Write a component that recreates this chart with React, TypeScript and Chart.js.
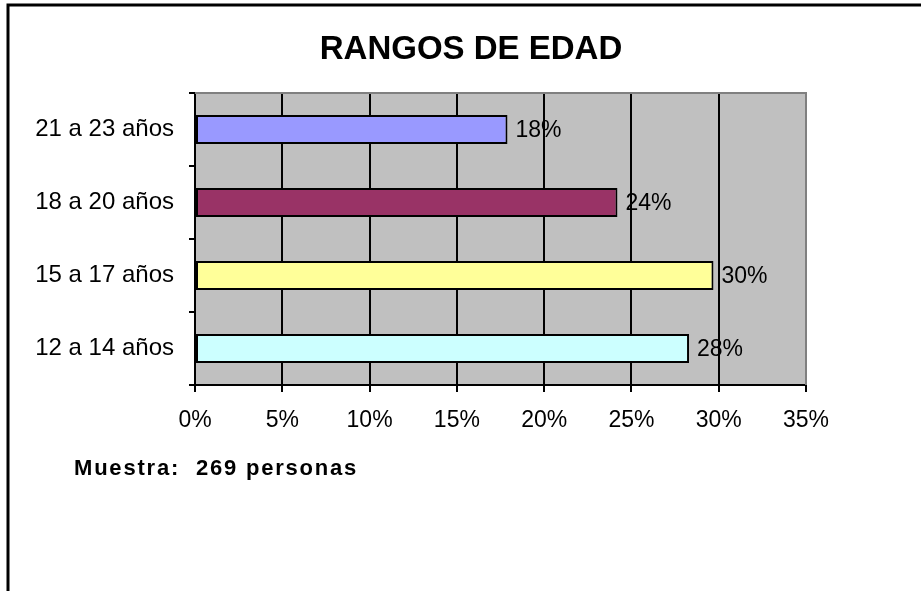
import React, { useEffect, useRef } from "react";
import { Chart, registerables } from "chart.js";

Chart.register(...registerables);

const categories = ["21 a 23 años", "18 a 20 años", "15 a 17 años", "12 a 14 años"];
const values = [17.9, 24.2, 29.7, 28.3];
const barColors = ["#9999FF", "#993366", "#FFFF99", "#CCFFFF"];
const xTicks = [0, 5, 10, 15, 20, 25, 30, 35];
const titleText = "RANGOS DE EDAD";
const noteText = "Muestra:  269 personas";

const FONT = '"Liberation Sans", Arial, sans-serif';

export default function App() {
  const ref = useRef<HTMLCanvasElement | null>(null);

  useEffect(() => {
    document.body.style.margin = "0";
    const canvas = ref.current!;
    const decor = {
      id: "decor",
      beforeDraw(chart: any) {
        const { ctx, chartArea: a } = chart;
        ctx.save();
        ctx.fillStyle = "#FFFFFF";
        ctx.fillRect(0, 0, chart.width, chart.height);
        ctx.fillStyle = "#C0C0C0";
        ctx.fillRect(a.left, a.top, a.right - a.left, a.bottom - a.top);
        ctx.restore();
      },
      afterDatasetsDraw(chart: any) {
        const { ctx, chartArea: a } = chart;
        ctx.save();
        ctx.strokeStyle = "#808080";
        ctx.lineWidth = 2;
        ctx.beginPath();
        ctx.moveTo(a.left, a.top);
        ctx.lineTo(a.right, a.top);
        ctx.lineTo(a.right, a.bottom);
        ctx.stroke();
        const meta = chart.getDatasetMeta(0);
        ctx.fillStyle = "#000";
        ctx.font = `23px ${FONT}`;
        ctx.textAlign = "left";
        ctx.textBaseline = "middle";
        meta.data.forEach((el: any, i: number) => {
          ctx.fillText(Math.round(values[i]) + "%", el.x + 8, el.y + 1);
        });
        ctx.restore();
      },
      afterDraw(chart: any) {
        const { ctx } = chart;
        ctx.save();
        ctx.strokeStyle = "#000";
        ctx.lineWidth = 3;
        ctx.strokeRect(8, 5, 1000, 1000);
        ctx.fillStyle = "#000";
        ctx.font = `bold 33px ${FONT}`;
        ctx.textAlign = "center";
        ctx.textBaseline = "alphabetic";
        ctx.fillText(titleText, 471, 59);
        ctx.font = `bold 22px ${FONT}`;
        (ctx as any).letterSpacing = "1.8px";
        ctx.textAlign = "left";
        ctx.fillText(noteText, 74, 475);
        ctx.restore();
      },
    };

    const chart = new Chart(canvas, {
      type: "bar",
      data: {
        labels: categories,
        datasets: [
          {
            data: values,
            backgroundColor: barColors,
            borderColor: "#000",
            borderWidth: 2,
            borderSkipped: false,
            barPercentage: 0.4,
            categoryPercentage: 1,
          },
        ],
      },
      options: {
        indexAxis: "y",
        responsive: false,
        animation: false,
        layout: { padding: { left: 0, top: 93, right: 115, bottom: 156 } },
        plugins: { legend: { display: false }, title: { display: false }, tooltip: { enabled: false } },
        scales: {
          x: {
            min: 0,
            max: 35,
            afterBuildTicks(scale: any) {
              scale.ticks = xTicks.map((v) => ({ value: v }));
            },
            afterFit(scale: any) {
              scale.height = 50;
            },
            ticks: {
              color: "#000",
              font: { family: FONT, size: 23 },
              padding: 15,
              maxRotation: 0,
              callback: (v: any) => v + "%",
            },
            grid: { color: "#000", lineWidth: 2, tickLength: 7, drawOnChartArea: true },
            border: { display: true, color: "#000", width: 2 },
          },
          y: {
            afterFit(scale: any) {
              scale.width = 195;
            },
            ticks: {
              color: "#000",
              font: { family: FONT, size: 24 },
              padding: 15,
            },
            grid: { color: "#000", lineWidth: 2, tickLength: 6, drawOnChartArea: false, offset: true },
            border: { display: true, color: "#000", width: 2 },
          },
        },
      },
      plugins: [decor],
    });
    return () => chart.destroy();
  }, []);

  return <canvas ref={ref} width={921} height={591} style={{ display: "block" }} />;
}
